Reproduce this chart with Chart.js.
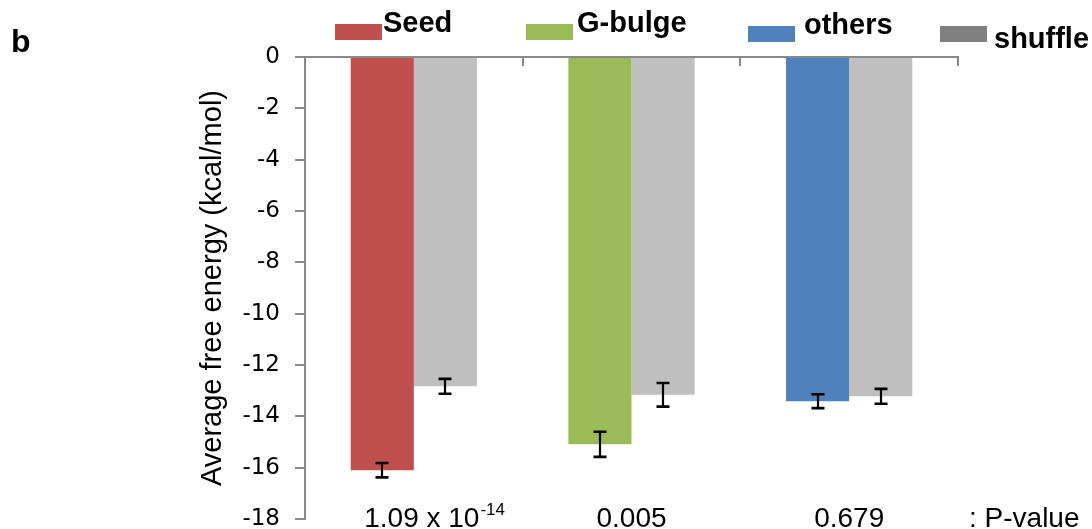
<!DOCTYPE html>
<html><head><meta charset="utf-8">
<script src="https://cdn.jsdelivr.net/npm/chart.js@4.4.0/dist/chart.umd.min.js"></script>
<style>html,body{margin:0;padding:0;background:#fff;} #wrap{width:1092px;height:529px;}</style>
</head><body><div id="wrap"><canvas id="c" width="1092" height="529"></canvas></div>
<script>
// ---- data ----
const categories = ["Seed", "G-bulge", "others"];
const observedValues = [-16.10, -15.09, -13.41];
const observedErrors = [0.28, 0.49, 0.27];
const shuffleLabel = "shuffle";
const shuffleValues = [-12.83, -13.16, -13.22];
const shuffleErrors = [0.29, 0.46, 0.29];
const pValueMain = ["1.09 x 10", "0.005", "0.679"];
const pValueExp = ["-14", "", ""];
const pValueSuffix = ": P-value";
const yTicks = [0, -2, -4, -6, -8, -10, -12, -14, -16, -18];
const yTitle = "Average free energy (kcal/mol)";
const panelLabel = "b";

// ---- style ----
const seriesColors = ["#C0504D", "#9BBB59", "#4F81BD"];
const shuffleColor = "#BFBFBF";
const shuffleLegendColor = "#808080";
const axisColor = "#898989";
const FONT = "'Liberation Sans', Arial, sans-serif";
const TICKFONT = "'DejaVu Sans', 'Liberation Sans', sans-serif";

const decorPlugin = {
  id: 'decor',
  afterDatasetsDraw(chart) {
    const ctx = chart.ctx;
    const xs = chart.scales.x, ys = chart.scales.y;
    // top category axis line at y = 0
    const y0 = ys.getPixelForValue(0);
    ctx.save();
    ctx.strokeStyle = axisColor;
    ctx.lineWidth = 2;
    ctx.beginPath();
    ctx.moveTo(chart.chartArea.left - 10, y0);
    ctx.lineTo(chart.chartArea.right + 1, y0);
    for (let i = 0; i <= categories.length; i++) {
      const bx = Math.round(xs.getPixelForValue(i - 0.5));
      ctx.moveTo(bx, y0);
      ctx.lineTo(bx, y0 + 9);
    }
    ctx.stroke();
    // error bars
    ctx.strokeStyle = "#000";
    chart.data.datasets.forEach((ds, di) => {
      const meta = chart.getDatasetMeta(di);
      meta.data.forEach((bar, i) => {
        const v = ds.data[i], e = ds.errors[i];
        const yt = ys.getPixelForValue(v + e);
        const yb = ys.getPixelForValue(v - e);
        const x = Math.round(bar.x);
        ctx.lineWidth = 2.2;
        ctx.beginPath();
        ctx.moveTo(x, yt); ctx.lineTo(x, yb);
        ctx.stroke();
        ctx.lineWidth = 2.6;
        ctx.beginPath();
        ctx.moveTo(x - 6.5, yt); ctx.lineTo(x + 6.5, yt);
        ctx.moveTo(x - 6.5, yb); ctx.lineTo(x + 6.5, yb);
        ctx.stroke();
      });
    });
    ctx.restore();
  },
  afterDraw(chart) {
    const ctx = chart.ctx;
    const xs = chart.scales.x;
    ctx.save();
    ctx.fillStyle = "#000";
    ctx.textBaseline = "alphabetic";
    // panel label
    ctx.font = "bold 32px " + FONT;
    ctx.textAlign = "left";
    ctx.fillText(panelLabel, 11, 52);
    // legend
    const legendLabels = categories.concat([shuffleLabel]);
    const legendColors = seriesColors.concat([shuffleLegendColor]);
    const boxX = [335, 526, 748, 940];
    const boxY = [24, 24, 26, 26];
    const textX = [383, 577, 804, 994];
    const textY = [32, 32, 34, 48];
    ctx.font = "bold 29px " + FONT;
    legendLabels.forEach((lab, i) => {
      ctx.fillStyle = legendColors[i];
      ctx.fillRect(boxX[i], boxY[i], 47, 16);
      ctx.fillStyle = "#000";
      ctx.fillText(lab, textX[i], textY[i]);
    });
    // p-value labels
    const mainFont = "28px " + FONT;
    const supFont = "17px " + FONT;
    pValueMain.forEach((m, i) => {
      const cx = xs.getPixelForValue(i);
      ctx.font = mainFont;
      const w = ctx.measureText(m).width;
      const shift = pValueExp[i] ? 8 : 0;
      const sx = cx + shift - w / 2;
      ctx.textAlign = "left";
      ctx.fillText(m, sx, 527);
      if (pValueExp[i]) {
        ctx.font = supFont;
        ctx.fillText(pValueExp[i], sx + w + 1, 515);
      }
    });
    ctx.font = mainFont;
    ctx.fillText(pValueSuffix, 969, 527);
    ctx.restore();
  }
};

new Chart(document.getElementById('c'), {
  type: 'bar',
  data: {
    labels: categories,
    datasets: [
      { label: 'observed', data: observedValues, errors: observedErrors, backgroundColor: seriesColors, borderWidth: 0 },
      { label: shuffleLabel, data: shuffleValues, errors: shuffleErrors, backgroundColor: shuffleColor, borderWidth: 0 }
    ]
  },
  options: {
    responsive: false,
    animation: false,
    devicePixelRatio: 1,
    layout: { padding: { left: 196, right: 134, top: 57, bottom: 10 } },
    plugins: { legend: { display: false }, tooltip: { enabled: false } },
    datasets: { bar: { categoryPercentage: 0.58, barPercentage: 1.0 } },
    scales: {
      x: { type: 'category', display: false },
      y: {
        min: -18, max: 0,
        afterBuildTicks: (s) => { s.ticks = yTicks.map(v => ({ value: v })); },
        afterFit: (s) => { s.width = 109; s.paddingTop = 0; s.paddingBottom = 0; },
        grid: { drawOnChartArea: false, drawTicks: true, tickLength: 10, color: axisColor, lineWidth: 2 },
        border: { display: true, color: axisColor, width: 2 },
        ticks: { color: '#000', font: { family: TICKFONT, size: 23 }, padding: 15, callback: (v) => String(v) },
        title: { display: true, text: yTitle, color: '#000', font: { family: FONT, size: 29 }, padding: 0 }
      }
    }
  },
  plugins: [decorPlugin]
});
</script></body></html>
